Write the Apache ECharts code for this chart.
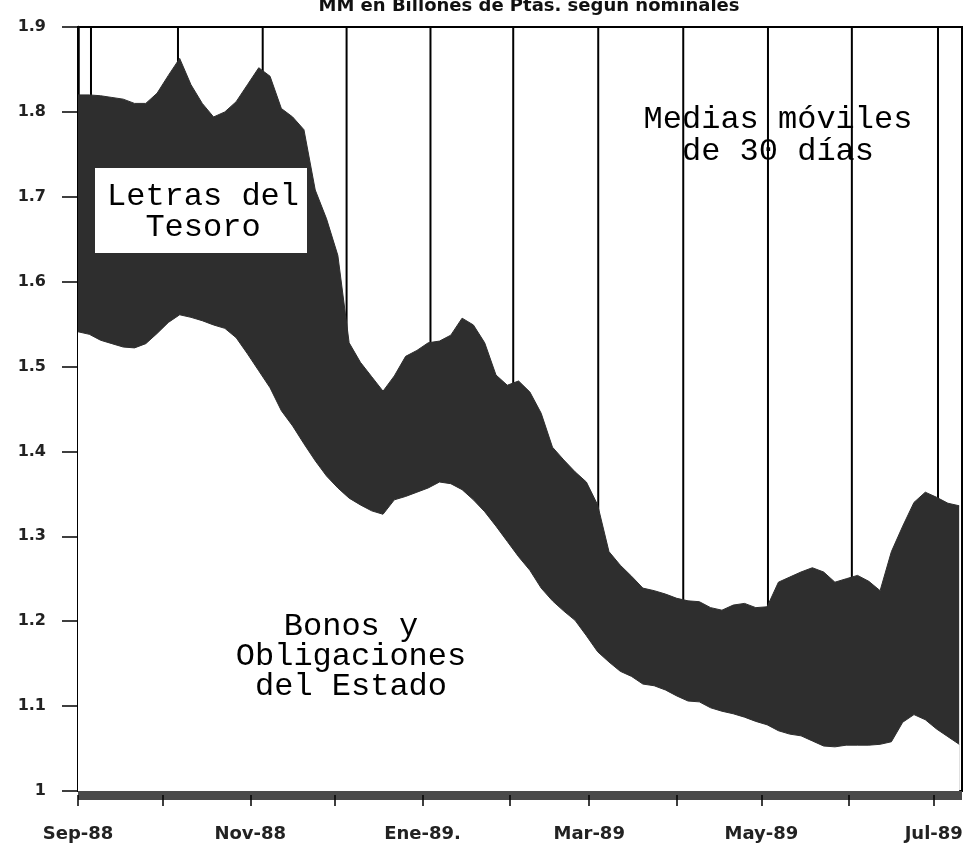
<!DOCTYPE html>
<html>
<head>
<meta charset="utf-8">
<script src="https://cdn.jsdelivr.net/npm/echarts@6/dist/echarts.min.js"></script>
<style>
html,body{margin:0;padding:0;background:#fff;}
#chart{width:976px;height:859px;}
</style>
</head>
<body>
<div id="chart"></div>
<script>
// Days since 1 Sep 1988
var days = [0,4,8,12,16,20,24,28,32,36,40,44,48,52,56,60,64,68,72,76,80,84,88,92,96,100,104,108,112,116,120,124,128,132,136,140,144,148,152,156,160,164,168,172,176,180,184,188,192,196,200,204,208,212,216,220,224,228,232,236,240,244,248,252,256,260,264,268,272,276,280,284,288,292,296,300,304,308,312];
// Total (Letras del Tesoro + Bonos y Obligaciones), 30-day moving average
var totalVals = [1.820,1.820,1.819,1.817,1.815,1.810,1.810,1.822,1.843,1.863,1.832,1.810,1.794,1.800,1.812,1.832,1.852,1.842,1.804,1.794,1.779,1.708,1.674,1.631,1.528,1.505,1.488,1.471,1.489,1.512,1.519,1.528,1.530,1.537,1.557,1.549,1.528,1.490,1.478,1.483,1.470,1.445,1.405,1.390,1.376,1.364,1.337,1.282,1.266,1.253,1.239,1.236,1.232,1.227,1.224,1.223,1.216,1.213,1.219,1.221,1.216,1.217,1.246,1.252,1.258,1.263,1.258,1.246,1.250,1.254,1.247,1.236,1.282,1.312,1.340,1.352,1.346,1.339,1.336];
// Bonos y Obligaciones del Estado, 30-day moving average
var bonosVals = [1.541,1.538,1.531,1.527,1.523,1.522,1.527,1.539,1.552,1.561,1.558,1.554,1.549,1.545,1.534,1.515,1.495,1.475,1.448,1.430,1.409,1.389,1.371,1.357,1.345,1.337,1.330,1.326,1.343,1.347,1.352,1.357,1.364,1.362,1.355,1.343,1.329,1.312,1.294,1.276,1.260,1.239,1.224,1.212,1.201,1.183,1.164,1.152,1.141,1.135,1.126,1.124,1.119,1.112,1.106,1.105,1.098,1.094,1.091,1.087,1.082,1.078,1.071,1.067,1.065,1.059,1.053,1.052,1.054,1.054,1.054,1.055,1.058,1.081,1.090,1.084,1.073,1.064,1.055];
// Month ticks (days since 1 Sep 1988) and labels
var monthTickDays = [0,30,61,91,122,153,181,212,242,273,303];
var labelDays = [0,61,122,181,242,303];
var labelNames = ['Sep-88','Nov-88','Ene-89.','Mar-89','May-89','Jul-89'];
// Vertical reference lines
var vlineDays = [4.6,35.4,65.4,95.1,124.8,154.1,184.2,214.3,244.3,274.0,304.5];

var chart = echarts.init(document.getElementById('chart'));
var fill = '#2e2e2e';

var series = vlineDays.map(function(d){
  return {type:'line', data:[[d,1.0],[d,1.9]], symbol:'none', silent:true, z:1,
          lineStyle:{color:'#000', width:2}, animation:false};
});
series.push({
  name:'Letras del Tesoro', type:'line', z:2, symbol:'none', animation:false,
  data: days.map(function(d,i){return [d,totalVals[i]];}),
  lineStyle:{color:fill, width:1},
  areaStyle:{color:fill, opacity:1, origin:'start'}
});
series.push({
  name:'Bonos y Obligaciones del Estado', type:'line', z:3, symbol:'none', animation:false,
  data: days.map(function(d,i){return [d,bonosVals[i]];}),
  lineStyle:{color:fill, width:1},
  areaStyle:{color:'#ffffff', opacity:1, origin:'start'}
});

chart.setOption({
  animation:false,
  backgroundColor:'#fff',
  grid:{left:78, right:14, top:27, bottom:68, show:true, borderColor:'#000', borderWidth:2},
  xAxis:[{
    type:'value', min:0, max:313, offset:4,
    axisLine:{show:true, lineStyle:{color:'#4a4a4a', width:9, cap:'butt'}},
    axisTick:{show:true, customValues:monthTickDays, length:11, lineStyle:{color:'#000', width:1.5}},
    axisLabel:{show:true, customValues:labelDays, margin:30, fontFamily:'DejaVu Sans', fontWeight:'bold', fontSize:18, color:'#222',
      formatter:function(v){var i=labelDays.indexOf(v); return i>=0?labelNames[i]:'';}},
    splitLine:{show:false}
  }],
  yAxis:{
    type:'value', min:1, max:1.9, interval:0.1,
    axisLine:{show:true, lineStyle:{color:'#000', width:2.5}},
    axisTick:{show:true, inside:false, length:16, lineStyle:{color:'#000', width:1.5}},
    axisLabel:{margin:32, fontFamily:'DejaVu Sans', fontWeight:'bold', fontSize:16, color:'#222',
      formatter:function(v){return Math.abs(v-1)<1e-9?'1':v.toFixed(1);}},
    splitLine:{show:false}
  },
  series: series,
  graphic:[
    {type:'text', z:100, style:{text:'MM en Billones de Ptas. segun nominales', x:529, y:6, textAlign:'center', textVerticalAlign:'middle', fontFamily:'DejaVu Sans', fontWeight:'bold', fontSize:18, fill:'#111'}},
    {type:'rect', z:100, shape:{x:95, y:168, width:212, height:85}, style:{fill:'#fff'}},
    {type:'text', z:101, style:{text:'Letras del\nTesoro', x:203, y:212, textAlign:'center', textVerticalAlign:'middle', fontFamily:'Liberation Mono', fontSize:32, lineHeight:31, fill:'#000'}},
    {type:'text', z:101, style:{text:'Medias móviles\nde 30 días', x:778, y:136, textAlign:'center', textVerticalAlign:'middle', fontFamily:'Liberation Mono', fontSize:32, lineHeight:32, fill:'#000'}},
    {type:'text', z:101, style:{text:'Bonos y\nObligaciones\ndel Estado', x:351, y:657, textAlign:'center', textVerticalAlign:'middle', fontFamily:'Liberation Mono', fontSize:32, lineHeight:30, fill:'#000'}}
  ]
});
</script>
</body>
</html>
